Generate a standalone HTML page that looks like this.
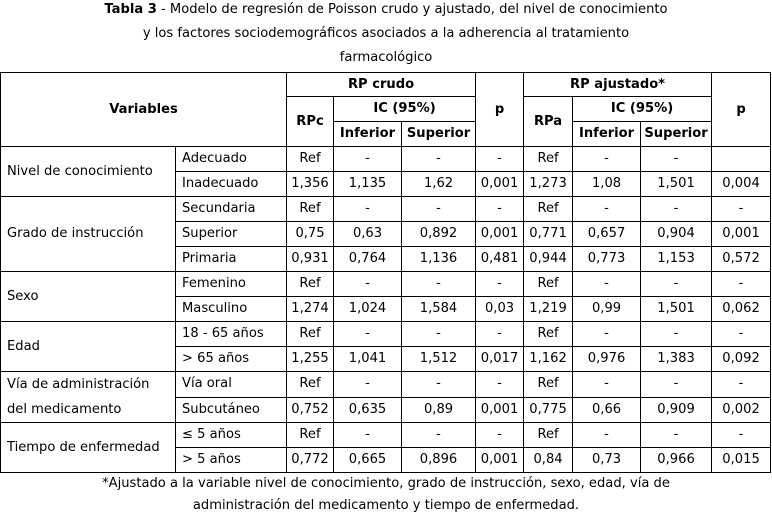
<!DOCTYPE html>
<html><head><meta charset="utf-8"><style>
body{margin:0;width:772px;height:514px;background:#fff;font-family:"DejaVu Sans","Liberation Sans",sans-serif;font-size:13.1px;color:#000;overflow:hidden}
.t{position:absolute;left:0;width:772px;text-align:center;line-height:24px}
table{position:absolute;left:0;top:72px;border-collapse:collapse;table-layout:fixed;width:771px}
td{border:1px solid #000;padding:0;height:24px;line-height:16px;text-align:center;white-space:nowrap;overflow:hidden}
td.l{text-align:left;padding-left:6px}
th{border:1px solid #000;padding:0;font-weight:bold;line-height:16px;white-space:nowrap;overflow:hidden}
tr.h1{height:24px}tr.h2{height:25px}tr.h3{height:25px}
</style></head><body>
<div class="t" style="top:-2px"><b>Tabla 3</b> - Modelo de regresión de Poisson crudo y ajustado, del nivel de conocimiento</div>
<div class="t" style="top:22px">y los factores sociodemográficos asociados a la adherencia al tratamiento</div>
<div class="t" style="top:46px">farmacológico</div>
<table>
<colgroup><col style="width:175px"><col style="width:111px"><col style="width:47px"><col style="width:68px"><col style="width:74px"><col style="width:48px"><col style="width:49px"><col style="width:68px"><col style="width:71px"><col style="width:59px"></colgroup>
<tr class="h1"><th colspan="2" rowspan="3">Variables</th><th colspan="3">RP crudo</th><th rowspan="3">p</th><th colspan="3">RP ajustado*</th><th rowspan="3">p</th></tr>
<tr class="h2"><th rowspan="2">RPc</th><th colspan="2">IC (95%)</th><th rowspan="2">RPa</th><th colspan="2">IC (95%)</th></tr>
<tr class="h3"><th>Inferior</th><th>Superior</th><th>Inferior</th><th>Superior</th></tr>
<tr><td class="l" rowspan="2">Nivel de conocimiento</td><td class="l">Adecuado</td><td>Ref</td><td>-</td><td>-</td><td>-</td><td>Ref</td><td>-</td><td>-</td><td></td></tr>
<tr><td class="l">Inadecuado</td><td>1,356</td><td>1,135</td><td>1,62</td><td>0,001</td><td>1,273</td><td>1,08</td><td>1,501</td><td>0,004</td></tr>
<tr><td class="l" rowspan="3">Grado de instrucción</td><td class="l">Secundaria</td><td>Ref</td><td>-</td><td>-</td><td>-</td><td>Ref</td><td>-</td><td>-</td><td>-</td></tr>
<tr><td class="l">Superior</td><td>0,75</td><td>0,63</td><td>0,892</td><td>0,001</td><td>0,771</td><td>0,657</td><td>0,904</td><td>0,001</td></tr>
<tr><td class="l">Primaria</td><td>0,931</td><td>0,764</td><td>1,136</td><td>0,481</td><td>0,944</td><td>0,773</td><td>1,153</td><td>0,572</td></tr>
<tr><td class="l" rowspan="2">Sexo</td><td class="l">Femenino</td><td>Ref</td><td>-</td><td>-</td><td>-</td><td>Ref</td><td>-</td><td>-</td><td>-</td></tr>
<tr><td class="l">Masculino</td><td>1,274</td><td>1,024</td><td>1,584</td><td>0,03</td><td>1,219</td><td>0,99</td><td>1,501</td><td>0,062</td></tr>
<tr><td class="l" rowspan="2">Edad</td><td class="l">18 - 65 años</td><td>Ref</td><td>-</td><td>-</td><td>-</td><td>Ref</td><td>-</td><td>-</td><td>-</td></tr>
<tr><td class="l">&gt; 65 años</td><td>1,255</td><td>1,041</td><td>1,512</td><td>0,017</td><td>1,162</td><td>0,976</td><td>1,383</td><td>0,092</td></tr>
<tr><td class="l" rowspan="2" style="line-height:25px">Vía de administración<br>del medicamento</td><td class="l">Vía oral</td><td>Ref</td><td>-</td><td>-</td><td>-</td><td>Ref</td><td>-</td><td>-</td><td>-</td></tr>
<tr><td class="l">Subcutáneo</td><td>0,752</td><td>0,635</td><td>0,89</td><td>0,001</td><td>0,775</td><td>0,66</td><td>0,909</td><td>0,002</td></tr>
<tr><td class="l" rowspan="2">Tiempo de enfermedad</td><td class="l">≤ 5 años</td><td>Ref</td><td>-</td><td>-</td><td>-</td><td>Ref</td><td>-</td><td>-</td><td>-</td></tr>
<tr><td class="l">&gt; 5 años</td><td>0,772</td><td>0,665</td><td>0,896</td><td>0,001</td><td>0,84</td><td>0,73</td><td>0,966</td><td>0,015</td></tr>
</table>
<div class="t" style="top:472px">*Ajustado a la variable nivel de conocimiento, grado de instrucción, sexo, edad, vía de</div>
<div class="t" style="top:494px">administración del medicamento y tiempo de enfermedad.</div>
</body></html>
